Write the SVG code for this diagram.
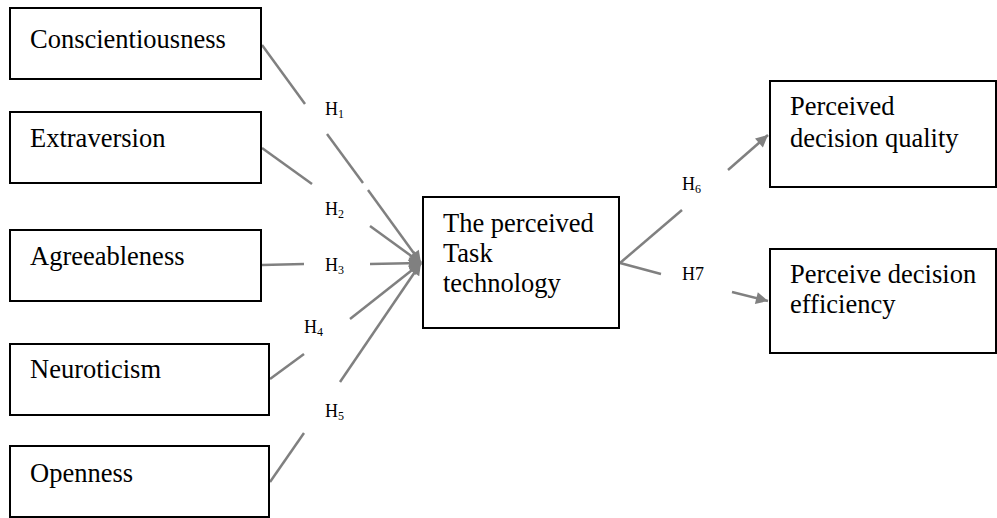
<svg xmlns="http://www.w3.org/2000/svg" width="997" height="518" viewBox="0 0 997 518">
<style>
.box{fill:#fff;stroke:#000;stroke-width:2}
.t{font-family:"Liberation Serif","Times New Roman",serif;font-size:26.5px;fill:#000}
.h{font-family:"Liberation Serif","Times New Roman",serif;font-size:18px;fill:#000}
.sub{font-size:12px}
.c{stroke:#808080;stroke-width:2.5;fill:none}
</style>
<defs>
<marker id="ah" viewBox="0 0 10 10" refX="10" refY="5" markerWidth="15" markerHeight="12" markerUnits="userSpaceOnUse" orient="auto">
<path d="M0,0 L10,5 L0,10 Z" fill="#808080"/>
</marker>
</defs>
<g id="connectors">
<line class="c" x1="262" y1="45" x2="305" y2="104"/>
<line class="c" x1="327" y1="134" x2="363" y2="183"/>
<line class="c" x1="368" y1="190" x2="421" y2="263" marker-end="url(#ah)"/>
<line class="c" x1="262" y1="148" x2="312" y2="184"/>
<line class="c" x1="370" y1="226" x2="421" y2="263" marker-end="url(#ah)"/>
<line class="c" x1="262" y1="265" x2="304" y2="264"/>
<line class="c" x1="370" y1="264" x2="421" y2="263" marker-end="url(#ah)"/>
<line class="c" x1="270" y1="379" x2="304" y2="354"/>
<line class="c" x1="350" y1="319" x2="421" y2="263" marker-end="url(#ah)"/>
<line class="c" x1="270" y1="482" x2="304" y2="433"/>
<line class="c" x1="340" y1="382" x2="421" y2="263" marker-end="url(#ah)"/>
<line class="c" x1="620" y1="263" x2="682" y2="210"/>
<line class="c" x1="728" y1="170" x2="768" y2="135" marker-end="url(#ah)"/>
<line class="c" x1="620" y1="263" x2="661" y2="274"/>
<line class="c" x1="732" y1="292" x2="768" y2="301" marker-end="url(#ah)"/>
</g>
<g id="labels">
<text class="h" x="325" y="115">H<tspan class="sub" dy="3">1</tspan></text>
<text class="h" x="325" y="215">H<tspan class="sub" dy="3">2</tspan></text>
<text class="h" x="325" y="271">H<tspan class="sub" dy="3">3</tspan></text>
<text class="h" x="304" y="333">H<tspan class="sub" dy="3">4</tspan></text>
<text class="h" x="325" y="417">H<tspan class="sub" dy="3">5</tspan></text>
<text class="h" x="682" y="190">H<tspan class="sub" dy="3">6</tspan></text>
<text class="h" x="682" y="280">H7</text>
</g>
<g id="conscientiousness">
<rect class="box" x="10" y="8" width="251" height="71"/>
<text class="t" x="30" y="48">Conscientiousness</text>
</g>
<g id="extraversion">
<rect class="box" x="10" y="112" width="251" height="71"/>
<text class="t" x="30" y="147">Extraversion</text>
</g>
<g id="agreeableness">
<rect class="box" x="10" y="230" width="251" height="71"/>
<text class="t" x="30" y="265">Agreeableness</text>
</g>
<g id="neuroticism">
<rect class="box" x="10" y="344" width="259" height="71"/>
<text class="t" x="30" y="378">Neuroticism</text>
</g>
<g id="openness">
<rect class="box" x="10" y="446" width="259" height="71"/>
<text class="t" x="30" y="482">Openness</text>
</g>
<g id="task-technology">
<rect class="box" x="423" y="197" width="196" height="131"/>
<text class="t" x="443" y="232">The perceived</text>
<text class="t" x="443" y="262">Task</text>
<text class="t" x="443" y="292">technology</text>
</g>
<g id="decision-quality">
<rect class="box" x="770" y="81" width="226" height="106"/>
<text class="t" x="790" y="115">Perceived</text>
<text class="t" x="790" y="147">decision quality</text>
</g>
<g id="decision-efficiency">
<rect class="box" x="770" y="249" width="226" height="104"/>
<text class="t" x="790" y="283">Perceive decision</text>
<text class="t" x="790" y="313">efficiency</text>
</g>
</svg>
